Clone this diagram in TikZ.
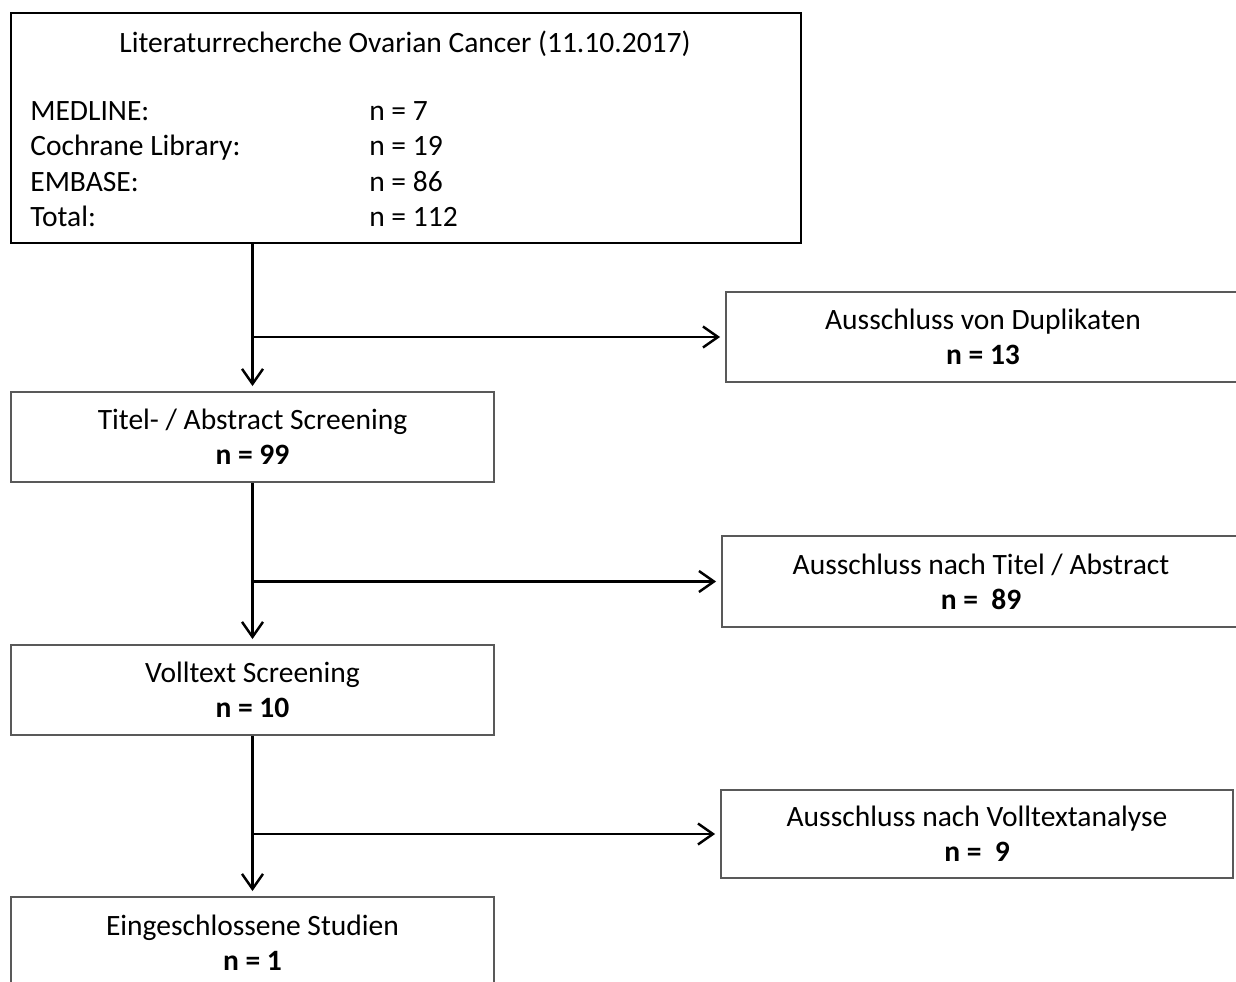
\documentclass[tikz,border=0pt]{standalone}
\usepackage{fontspec}
\setmainfont{Carlito}
\usetikzlibrary{arrows.meta,positioning}

\begin{document}
\begin{tikzpicture}[x=0.02cm,y=-0.02cm,
    every node/.style={font=\fontsize{16.8}{20}\selectfont},
    box/.style={draw=black!65,line width=1.1pt,minimum width=#1,minimum height=1.8cm,align=center,inner sep=0pt},
    arr/.style={-{Straight Barb[length=0.3cm,width=0.42cm]},line width=1.4pt,shorten >=0.1cm}]

    \useasboundingbox (0,0) rectangle (1236,982);
    \clip (0,0) rectangle (1236,982);

    \node[box=15.8cm,minimum height=4.6cm,draw=black] (lit) at (406,128) {}; % Literaturrecherche
    \node (littitle) at (405,44) {Literaturrecherche Ovarian Cancer (11.10.2017)};
    \node[anchor=west,align=left,inner sep=0pt] (litlist) at (30,166.5) {%
        \begin{tabular}{@{}p{6.78cm}@{}l@{}}
        MEDLINE: & n = 7\\
        Cochrane Library: & n = 19\\
        EMBASE: & n = 86\\
        Total: & n = 112
        \end{tabular}};

    \node[box=9.66cm] (tit) at (252.5,437) {Titel- / Abstract Screening\\\textbf{n = 99}};
    \node[box=9.66cm] (vol) at (252.5,690) {Volltext Screening\\\textbf{n = 10}};
    \node[box=9.66cm,minimum height=1.82cm] (inc) at (252.5,942.5) {Eingeschlossene Studien\\\textbf{n = 1}};

    \node[box=10.28cm] (dup) at (983,337) {Ausschluss von Duplikaten\\\textbf{n = 13}}; % Ausschluss
    \node[box=10.36cm,minimum height=1.82cm] (exta) at (981,581.5) {Ausschluss nach Titel / Abstract\\\textbf{n = \ 89}};
    \node[box=10.24cm,minimum height=1.76cm] (extv) at (977,834) {Ausschluss nach Volltextanalyse\\\textbf{n = \ 9}};

    % Pfeile
    \draw[arr] (tit.north |- lit.south) -- (tit.north);
    \coordinate (b1) at (tit.north |- dup.west);
    \draw[arr] (b1) -- (dup.west);

    \draw[arr] (tit.south) -- (vol.north);
    \coordinate (b2) at (tit.south |- exta.west);
    \draw[arr] (b2) -- (exta.west);

    \draw[arr] (vol.south) -- (inc.north);
    \coordinate (b3) at (vol.south |- extv.west);
    \draw[arr] (b3) -- (extv.west);

\end{tikzpicture}
\end{document}
